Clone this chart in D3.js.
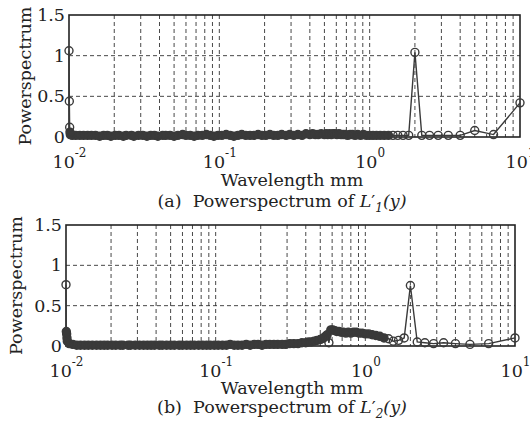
<!DOCTYPE html>
<html>
<head>
<meta charset="utf-8">
<script src="https://cdn.jsdelivr.net/npm/d3@7"></script>
<style>
  body { margin: 0; background: #fff; }
  svg { display: block; font-family: "DejaVu Serif", serif; }
</style>
</head>
<body>
<svg id="chart" width="530" height="425"></svg>
<script>
// wavelength samples (mm), shared by both panels
const wavelength = [
  10, 6.667, 5, 4, 3.333, 2.857, 2.5, 2.222, 2, 1.818,
  1.667, 1.538, 1.429, 1.333, 1.25, 1.176, 1.111, 1.053, 1.0, 0.952,
  0.909, 0.87, 0.833, 0.8, 0.769, 0.741, 0.714, 0.69, 0.667, 0.645,
  0.625, 0.606, 0.588, 0.571, 0.556, 0.541, 0.526, 0.513, 0.5, 0.476,
  0.455, 0.435, 0.417, 0.4, 0.377, 0.355, 0.333, 0.313, 0.294, 0.278,
  0.26, 0.245, 0.23, 0.217, 0.204, 0.192, 0.181, 0.17, 0.16, 0.15,
  0.141, 0.133, 0.125, 0.118, 0.111, 0.104, 0.098, 0.092, 0.087, 0.082,
  0.077, 0.072, 0.068, 0.064, 0.06, 0.057, 0.053, 0.05, 0.047, 0.044,
  0.042, 0.039, 0.037, 0.035, 0.033, 0.031, 0.029, 0.027, 0.026, 0.024,
  0.023, 0.0215, 0.0203, 0.019, 0.018, 0.017, 0.016, 0.015, 0.0141, 0.0133,
  0.0125, 0.0118, 0.0111, 0.0105, 0.0102, 0.01015, 0.0101, 0.01005, 0.01
];

// (a) power spectrum of L'1(y)
const power1 = [
  0.42, 0.03, 0.08, 0.02, 0.02, 0.02, 0.02, 0.02, 1.04, 0.02,
  0.02, 0.02, 0.02, 0.02, 0.02, 0.02, 0.02, 0.02, 0.02, 0.02,
  0.03, 0.02, 0.03, 0.02, 0.03, 0.03, 0.02, 0.03, 0.03, 0.03,
  0.04, 0.03, 0.04, 0.04, 0.03, 0.04, 0.03, 0.04, 0.03, 0.04,
  0.03, 0.03, 0.04, 0.03, 0.04, 0.02, 0.03, 0.02, 0.03, 0.02,
  0.03, 0.02, 0.02, 0.03, 0.02, 0.02, 0.03, 0.02, 0.02, 0.02,
  0.03, 0.02, 0.01, 0.02, 0.03, 0.02, 0.02, 0.01, 0.02, 0.03,
  0.02, 0.02, 0.01, 0.02, 0.02, 0.03, 0.02, 0.01, 0.02, 0.02,
  0.02, 0.01, 0.02, 0.02, 0.01, 0.02, 0.02, 0.01, 0.02, 0.02,
  0.01, 0.02, 0.02, 0.01, 0.02, 0.02, 0.01, 0.02, 0.02, 0.02,
  0.02, 0.02, 0.02, 0.02, 0.03, 0.06, 0.12, 0.44, 1.06
];

// (b) power spectrum of L'2(y)
const power2 = [
  0.10, 0.03, 0.02, 0.03, 0.04, 0.03, 0.04, 0.05, 0.75, 0.10,
  0.07, 0.06, 0.09, 0.10, 0.12, 0.13, 0.14, 0.15, 0.15, 0.16,
  0.16, 0.17, 0.17, 0.16, 0.17, 0.16, 0.17, 0.17, 0.18, 0.18,
  0.19, 0.20, 0.20, 0.04, 0.14, 0.12, 0.10, 0.09, 0.08, 0.07,
  0.06, 0.05, 0.05, 0.04, 0.04, 0.03, 0.03, 0.03, 0.02, 0.02,
  0.02, 0.02, 0.02, 0.02, 0.01, 0.02, 0.02, 0.01, 0.02, 0.01,
  0.01, 0.01, 0.02, 0.01, 0.01, 0.01, 0.01, 0.01, 0.01, 0.01,
  0.01, 0.01, 0.01, 0.01, 0.01, 0.01, 0.01, 0.01, 0.01, 0.01,
  0.01, 0.01, 0.01, 0.01, 0.01, 0.01, 0.01, 0.01, 0.01, 0.01,
  0.01, 0.01, 0.01, 0.01, 0.01, 0.01, 0.01, 0.01, 0.01, 0.01,
  0.01, 0.01, 0.02, 0.03, 0.06, 0.10, 0.15, 0.18, 0.76
];

const xTicks = [0.01, 0.1, 1, 10];
const yTicks = [0, 0.5, 1, 1.5];
const yLabel = "Powerspectrum";
const xLabel = "Wavelength mm";

const ink = "#3a3a3a";
const svg = d3.select("#chart");

function drawPanel(values, box, tag, subscript) {
  const x = d3.scaleLog().domain([0.01, 10]).range([box.left, box.right]);
  const y = d3.scaleLinear().domain([0, 1.5]).range([box.bottom, box.top]);
  const g = svg.append("g");

  // dashed grid, minor decades included
  const gridX = [];
  [0.01, 0.1, 1].forEach(dec => {
    for (let m = 1; m <= 9; m++) if (!(dec === 0.01 && m === 1)) gridX.push(dec * m);
  });
  g.append("g").selectAll("line")
    .data(gridX)
    .join("line")
      .attr("x1", d => x(d)).attr("x2", d => x(d))
      .attr("y1", box.top).attr("y2", box.bottom)
      .attr("stroke", "#333").attr("stroke-width", 0.9)
      .attr("stroke-dasharray", "4,3");
  g.append("g").selectAll("line")
    .data([0.5, 1])
    .join("line")
      .attr("x1", box.left).attr("x2", box.right)
      .attr("y1", d => y(d)).attr("y2", d => y(d))
      .attr("stroke", "#333").attr("stroke-width", 0.9)
      .attr("stroke-dasharray", "4,3");

  // frame
  g.append("rect")
    .attr("x", box.left).attr("y", box.top)
    .attr("width", box.right - box.left).attr("height", box.bottom - box.top)
    .attr("fill", "none").attr("stroke", "#222").attr("stroke-width", 1.6);

  // y axis labels
  const ya = g.append("g")
    .attr("transform", `translate(${box.left},0)`)
    .call(d3.axisLeft(y).tickValues(yTicks).tickSize(0).tickPadding(4).tickFormat(d3.format("")));
  ya.select(".domain").remove();
  ya.selectAll("text")
    .attr("font-family", "DejaVu Serif").attr("font-size", 17.5).attr("fill", "#222");

  // x axis labels: 10 with superscript exponent
  const xa = g.append("g")
    .attr("transform", `translate(0,${box.bottom})`)
    .call(d3.axisBottom(x).tickValues(xTicks).tickSize(0).tickFormat(""));
  xa.select(".domain").remove();
  xa.selectAll(".tick text").remove();
  xa.selectAll(".tick").append("text")
    .attr("text-anchor", "middle")
    .attr("y", 31)
    .attr("fill", "#222")
    .attr("font-family", "DejaVu Serif")
    .attr("font-size", 17.5)
    .each(function(d) {
      const t = d3.select(this);
      t.append("tspan").text("10");
      t.append("tspan").attr("dy", -11).attr("font-size", 12).text(Math.round(Math.log10(d)));
    });

  // series line + markers
  const pts = wavelength.map((w, i) => ({ w, v: values[i] }));
  g.append("path")
    .datum(pts)
    .attr("d", d3.line().x(d => x(d.w)).y(d => y(d.v)))
    .attr("fill", "none").attr("stroke", ink).attr("stroke-width", 1.4);

  // markers that sit closer than a few pixels merge into a solid band
  const gap = (a, b) => Math.hypot(x(a.w) - x(b.w), y(a.v) - y(b.v));
  g.append("g").selectAll("circle")
    .data(pts)
    .join("circle")
      .attr("cx", d => x(d.w))
      .attr("cy", d => y(d.v))
      .attr("r", 4)
      .attr("stroke", ink).attr("stroke-width", 1.4)
      .attr("fill", (d, i) => {
        const prev = i > 0 ? gap(pts[i - 1], d) : 99;
        const next = i < pts.length - 1 ? gap(pts[i + 1], d) : 99;
        return Math.min(prev, next) < 4.5 ? ink : "none";
      });

  // y title
  svg.append("text")
    .attr("transform", `translate(${box.yTitleX},${(box.top + box.bottom) / 2}) rotate(-90)`)
    .attr("text-anchor", "middle")
    .attr("font-size", 17.5).attr("fill", "#222")
    .text(yLabel);

  // x title
  svg.append("text")
    .attr("x", 292).attr("y", box.xTitleY)
    .attr("text-anchor", "middle")
    .attr("font-size", 17.5).attr("fill", "#222")
    .text(xLabel);

  // caption
  const cap = svg.append("text")
    .attr("x", 282).attr("y", box.captionY)
    .attr("text-anchor", "middle")
    .attr("font-size", 17.5).attr("fill", "#222")
    .style("white-space", "pre");
  cap.append("tspan").text(`(${tag})  Powerspectrum of `);
  cap.append("tspan").attr("font-style", "italic").text("L");
  cap.append("tspan").text("\u2032");
  cap.append("tspan").attr("font-style", "italic").attr("font-size", 12).attr("dy", 5).text(subscript);
  cap.append("tspan").attr("font-style", "italic").attr("dy", -5).text("(y)");
}

drawPanel(power1, { left: 69, right: 520, top: 15, bottom: 137, yTitleX: 31, xTitleY: 186, captionY: 207 }, "a", "1");
drawPanel(power2, { left: 66, right: 515, top: 225, bottom: 346, yTitleX: 22, xTitleY: 394, captionY: 413 }, "b", "2");
</script>
</body>
</html>
